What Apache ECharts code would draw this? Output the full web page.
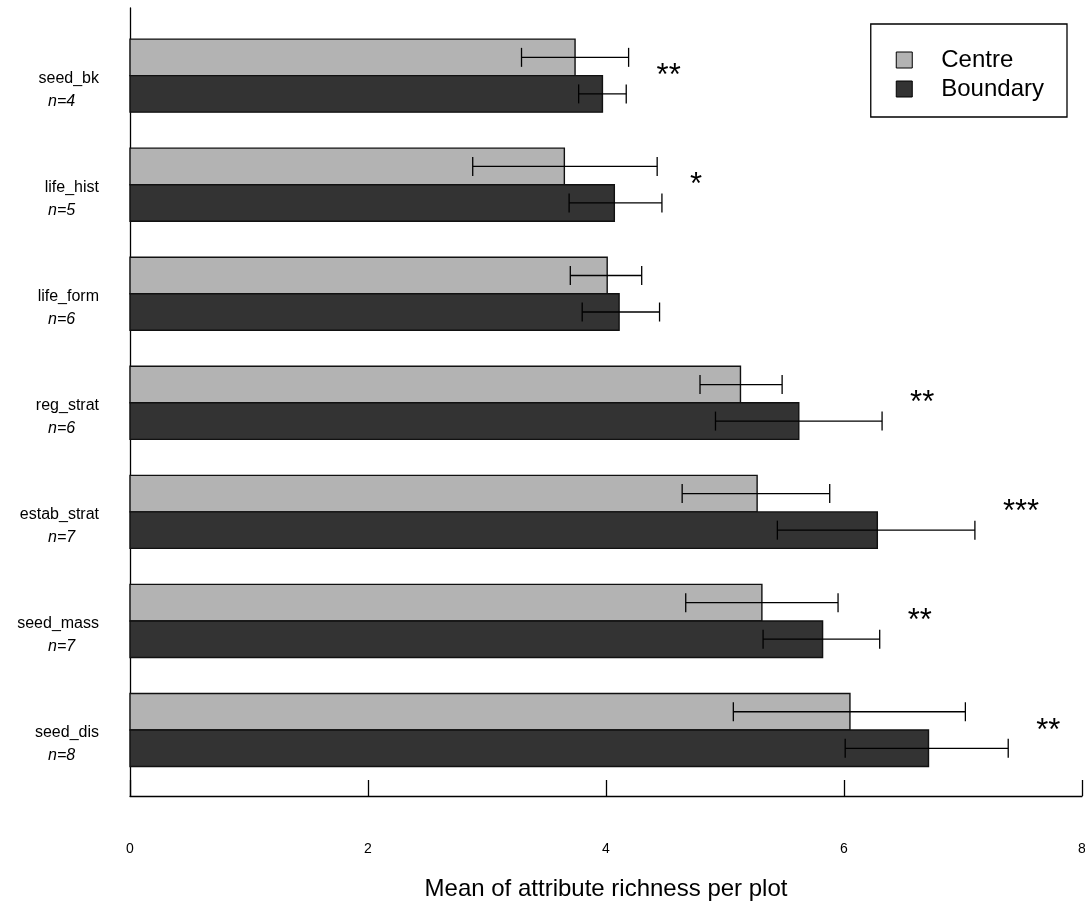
<!DOCTYPE html>
<html>
<head>
<meta charset="utf-8">
<script src="https://cdn.jsdelivr.net/npm/echarts@6/dist/echarts.min.js"></script>
<style>html,body{margin:0;padding:0;background:#fff}#chart{width:1085px;height:904px}</style>
</head>
<body>
<div id="chart"></div>
<script>
// ---- data ----
const categories = ['seed_bk', 'life_hist', 'life_form', 'reg_strat', 'estab_strat', 'seed_mass', 'seed_dis'];
const nAttributes = [4, 5, 6, 6, 7, 7, 8];
const centreMean = [3.74, 3.65, 4.01, 5.13, 5.27, 5.31, 6.05];
const centreLow  = [3.29, 2.88, 3.70, 4.79, 4.64, 4.67, 5.07];
const centreHigh = [4.19, 4.43, 4.30, 5.48, 5.88, 5.95, 7.02];
const boundaryMean = [3.97, 4.07, 4.11, 5.62, 6.28, 5.82, 6.71];
const boundaryLow  = [3.77, 3.69, 3.80, 4.92, 5.44, 5.32, 6.01];
const boundaryHigh = [4.17, 4.47, 4.45, 6.32, 7.10, 6.30, 7.38];
const significance = ['**', '*', '', '**', '***', '**', '**'];
const xMin = 0, xMax = 8, xInterval = 2;
const seriesNames = ['Centre', 'Boundary'];
const axisTitle = 'Mean of attribute richness per plot';

// ---- styling ----
const FONT = '"Liberation Sans", Arial, Helvetica, sans-serif';
const LIGHT = '#b3b3b3', DARK = '#333333';
const BAR_FRAC = 0.335;

const chart = echarts.init(document.getElementById('chart'), null, {renderer: 'canvas'});

function makeBarRender(fill, side) {
  return function (params, api) {
    const i = api.value(0), m = api.value(1), lo = api.value(2), hi = api.value(3);
    const base = api.coord([0, i]);
    const end = api.coord([m, i]);
    const unit = api.size([0, 1])[1];
    const h = unit * BAR_FRAC;
    const y0 = side < 0 ? base[1] - h : base[1];
    const ym = y0 + h / 2;
    const xl = api.coord([lo, i])[0], xh = api.coord([hi, i])[0];
    const cap = 9.5;
    const ls = {stroke: '#000', lineWidth: 1.3};
    return {
      type: 'group',
      children: [
        {type: 'rect', shape: {x: base[0], y: y0, width: end[0] - base[0], height: h},
         style: {fill: fill, stroke: '#111', lineWidth: 1.4}},
        {type: 'line', shape: {x1: xl, y1: ym, x2: xh, y2: ym}, style: ls},
        {type: 'line', shape: {x1: xl, y1: ym - cap, x2: xl, y2: ym + cap}, style: ls},
        {type: 'line', shape: {x1: xh, y1: ym - cap, x2: xh, y2: ym + cap}, style: ls}
      ]
    };
  };
}

const centreData = categories.map((c, i) => [i, centreMean[i], centreLow[i], centreHigh[i]]);
const boundaryData = categories.map((c, i) => [i, boundaryMean[i], boundaryLow[i], boundaryHigh[i]]);
const starData = categories.map((c, i) => [i, Math.max(centreHigh[i], boundaryHigh[i])]);
const labelData = categories.map((c, i) => [0, i]);

const option = {
  animation: false,
  backgroundColor: '#fff',
  textStyle: {fontFamily: FONT},
  grid: {left: 130, right: 3, top: 8, bottom: 108, containLabel: false, outerBoundsMode: 'none'},
  legend: {
    orient: 'vertical',
    right: 18, top: 24,
    itemWidth: 16, itemHeight: 16, itemGap: 5,
    padding: [24, 23, 16, 25],
    borderColor: '#000', borderWidth: 1.3,
    textStyle: {fontSize: 24, color: '#000', fontFamily: FONT, padding: [0, 0, 0, 24]},
    data: [
      {name: seriesNames[0], icon: 'rect', itemStyle: {color: LIGHT, borderColor: '#000', borderWidth: 1}},
      {name: seriesNames[1], icon: 'rect', itemStyle: {color: DARK, borderColor: '#000', borderWidth: 1}}
    ]
  },
  xAxis: {
    type: 'value', min: xMin, max: xMax, interval: xInterval,
    axisLine: {show: true, onZero: false, lineStyle: {color: '#000', width: 1.3}},
    axisTick: {show: true, inside: true, length: 16, lineStyle: {color: '#000', width: 1.3}},
    axisLabel: {margin: 46, fontSize: 14, color: '#000', fontFamily: FONT, showMinLabel: true, showMaxLabel: true},
    splitLine: {show: false},
    name: axisTitle, nameLocation: 'middle', nameGap: 81,
    nameTextStyle: {fontSize: 24, color: '#000', fontFamily: FONT}
  },
  yAxis: {
    type: 'value', inverse: true, min: -0.62, max: 6.605,
    axisLine: {show: true, onZero: false, lineStyle: {color: '#000', width: 1.3}},
    axisTick: {show: false}, axisLabel: {show: false}, splitLine: {show: false}
  },
  series: [
    {name: seriesNames[0], type: 'custom', clip: false, itemStyle: {color: LIGHT},
     renderItem: makeBarRender(LIGHT, -1), encode: {x: 1, y: 0}, data: centreData},
    {name: seriesNames[1], type: 'custom', clip: false, itemStyle: {color: DARK},
     renderItem: makeBarRender(DARK, 1), encode: {x: 1, y: 0}, data: boundaryData},
    {name: 'sig', type: 'custom', clip: false, silent: true,
     renderItem: function (params, api) {
       const i = api.value(0);
       const p = api.coord([api.value(1), i]);
       return {type: 'text', x: p[0] + 28, y: p[1] + 1,
         style: {text: significance[i], fill: '#000', fontSize: 31, fontFamily: FONT,
                 align: 'left', verticalAlign: 'middle'}};
     },
     encode: {x: 1, y: 0}, data: starData},
    {name: 'labels', type: 'custom', clip: false, silent: true,
     renderItem: function (params, api) {
       const i = api.value(1);
       const p = api.coord([0, i]);
       return {type: 'group', children: [
         {type: 'text', x: p[0] - 31, y: p[1] + 2.5,
          style: {text: categories[i], fill: '#000', fontSize: 16, fontFamily: FONT,
                  align: 'right', verticalAlign: 'middle'}},
         {type: 'text', x: p[0] - 82, y: p[1] + 25.5,
          style: {text: 'n=' + nAttributes[i], fill: '#000', fontSize: 16, fontStyle: 'italic', fontFamily: FONT,
                  align: 'left', verticalAlign: 'middle'}}
       ]};
     },
     encode: {x: 0, y: 1}, data: labelData}
  ]
};
chart.setOption(option);
</script>
</body>
</html>
